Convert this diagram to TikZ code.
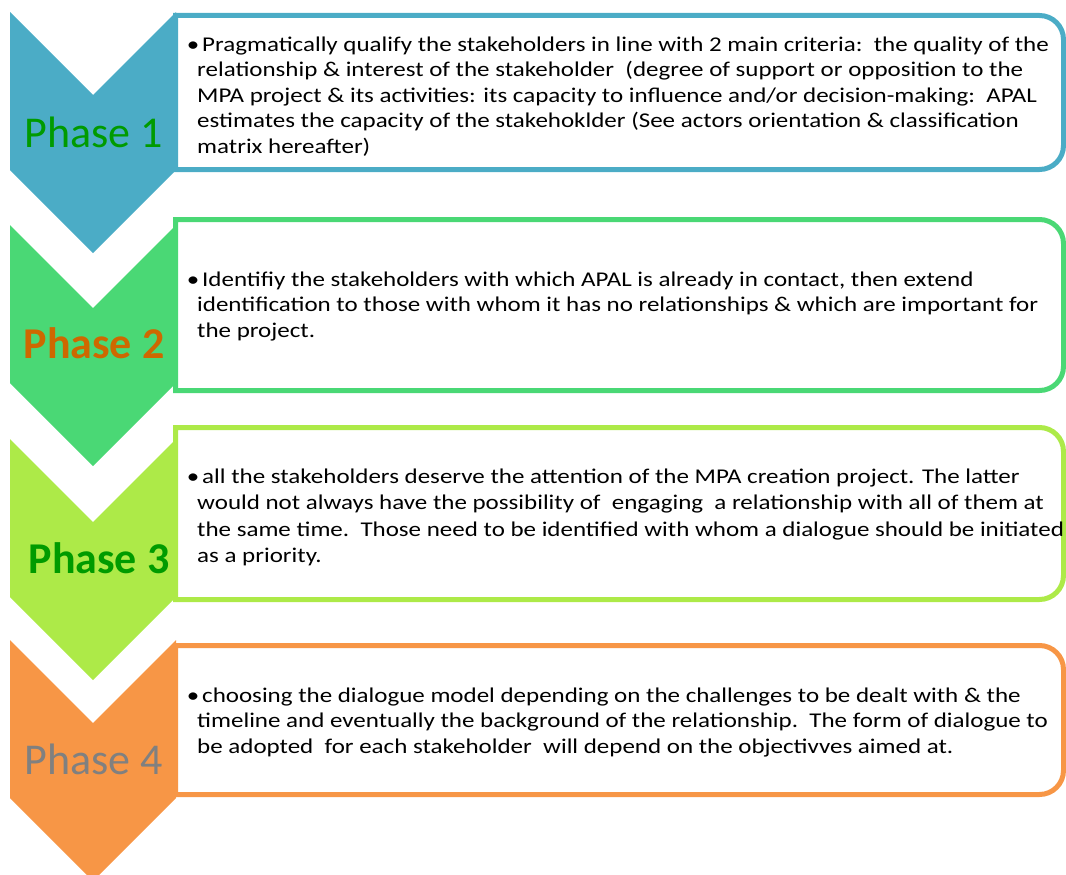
\documentclass[tikz,border=0pt]{standalone}
\usepackage{fontspec}
\setmainfont{Carlito}
\newfontfamily\bodyfont[FakeStretch=1.19]{Carlito}

\definecolor{phaseblue}{RGB}{75,172,198}
\definecolor{phasegreen}{RGB}{74,216,117}
\definecolor{phaselime}{RGB}{173,234,72}
\definecolor{phaseorange}{RGB}{247,150,70}
\definecolor{labgreen}{RGB}{0,155,0}
\definecolor{labbrown}{RGB}{206,104,0}
\definecolor{labgray}{RGB}{128,128,128}

\tikzset{
  stepframe/.style={draw=#1, fill=white, line width=5pt},
  phaselab/.style={anchor=base, inner sep=0pt, font=\fontsize{44}{50}\selectfont},
  boldlab/.style={phaselab, font=\fontsize{44}{50}\selectfont\bfseries},
  % anchored on the baseline of the last line
  boxtext/.style={anchor=base west, align=left, inner sep=0pt, font=\bodyfont\fontsize{21}{25.6}\selectfont},
}
\newcommand{\bul}{\hspace*{5pt}\llap{\textbullet\hspace{3pt}}}

\begin{document}
\begin{tikzpicture}[x=1pt,y=-1pt]
\useasboundingbox (0,0) rectangle (1066,875);
% arrow top / frame top / frame bottom / colour
\foreach \t/\ft/\fb/\col in {12/15.5/169.5/phaseblue, 225/219.5/390.5/phasegreen,
    439/427.5/599.5/phaselime, 640/645.5/794.5/phaseorange}{
  \fill[\col] (10,\t) -- (93,\t+83) -- (176,\t) -- (176,\t+158) -- (93,\t+241) -- (10,\t+158) -- cycle;
  \draw[stepframe=\col] (175.5,\ft) -- (1039.5,\ft) arc[start angle=-90, end angle=0, radius=24]
    -- (1063.5,\fb-24) arc[start angle=0, end angle=90, radius=24] -- (175.5,\fb) -- cycle;
}

\node[phaselab, text=labgreen] (p1) at (94,147) {Phase 1};
\node[boldlab, text=labbrown] (p2) at (94,358) {Phase 2};
\node[boldlab, text=labgreen] (p3) at (99,573) {Phase 3};
\node[phaselab, text=labgray] (p4) at (94,774) {Phase 4};

\node[boxtext] (t1) at (197,153.4) {\bul Pragmatically qualify the stakeholders in line with 2 main criteria:\ \ the quality of the\\
  relationship \& interest of the stakeholder\ \ (degree of support or opposition to the\\
  MPA project \& its activities: its capacity to influence and/or decision-making:\ \ APAL\\
  estimates the capacity of the stakehoklder (See actors orientation \& classification\\
  matrix hereafter)};

\node[boxtext] (t2) at (197,337.2) {\bul Identifiy the stakeholders with which APAL is already in contact, then extend\\
  identification to those with whom it has no relationships \& which are important for\\
  the project.};

\node[boxtext, font=\bodyfont\fontsize{21}{26.6}\selectfont] (t3) at (197,562.8) {\bul all the stakeholders deserve the attention of the MPA creation project. The latter\\
  would not always have the possibility of\ \ engaging\ \ a relationship with all of them at\\
  the same time.\ \ Those need to be identified with whom a dialogue should be initiated\\
  as a priority.};

\node[boxtext] (t4) at (197,753.2) {\bul choosing the dialogue model depending on the challenges to be dealt with \& the\\
  timeline and eventually the background of the relationship.\ \ The form of dialogue to\\
  be adopted\ \ for each stakeholder\ \ will depend on the objectivves aimed at.};
\end{tikzpicture}
\end{document}
